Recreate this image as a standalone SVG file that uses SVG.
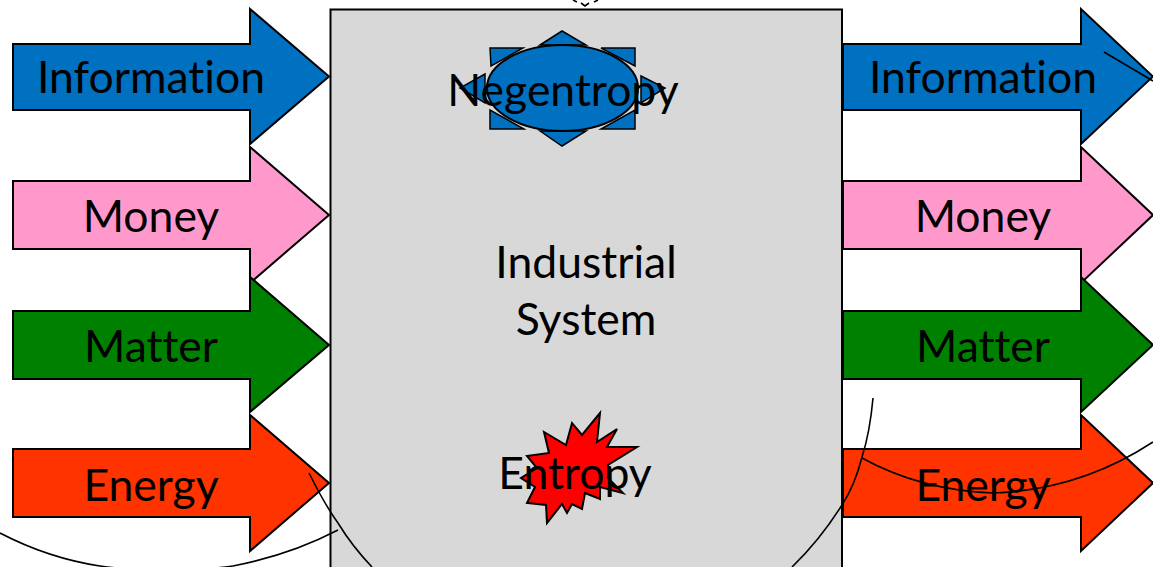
<svg xmlns="http://www.w3.org/2000/svg" width="1153" height="567" viewBox="0 0 1153 567">
<style>
text{font-family:"Lato","Liberation Sans",sans-serif;font-size:44.500px;fill:#000;text-anchor:middle;font-variant-ligatures:none}
.s{stroke:#000;stroke-width:2;stroke-linejoin:miter}
.thin{stroke:#000;stroke-width:1.5}
.info{fill:#0070C0}.money{fill:#FF99CC}.matter{fill:#008000}.energy{fill:#FF3300}
.arc{fill:none;stroke:#000;stroke-width:1.6}
</style>
<rect width="1153" height="567" fill="#fff"/>
<g id="system">
<rect x="330.500" y="9.500" width="511.500" height="570" fill="#D8D8D8" stroke="#000" stroke-width="2"/>
<text x="586" y="278">Industrial</text>
<text x="586" y="335">System</text>
</g>
<g id="in-information"><path class="s info" d="M13 44H250V9L329 76.500 250 144V110H13Z"/><text x="151" y="93">Information</text></g>
<g id="in-money"><path class="s money" d="M13 181H250V147L329 215 250 283V249H13Z"/><text x="151" y="232">Money</text></g>
<g id="in-matter"><path class="s matter" d="M13 311H250V277L329 345 250 412V379H13Z"/><text x="151" y="362">Matter</text></g>
<g id="in-energy"><path class="s energy" d="M13 449H250V415L329 483 250 551V517H13Z"/><text x="151" y="501">Energy</text></g>
<g id="out-information"><path class="s info" d="M843 44H1081V9L1153 76.500 1081 144V110H843Z"/><text x="983" y="93">Information</text></g>
<g id="out-money"><path class="s money" d="M843 181H1081V147L1153 215 1081 283V249H843Z"/><text x="983" y="232">Money</text></g>
<g id="out-matter"><path class="s matter" d="M843 311H1081V277L1153 345 1081 412V379H843Z"/><text x="983" y="362">Matter</text></g>
<g id="out-energy"><path class="s energy" d="M843 449H1081V415L1153 483 1081 551V517H843Z"/><text x="983" y="501">Energy</text></g>
<g id="negentropy">
<path class="thin info" d="M540 45L562 31 586 45ZM540 131L562 146 586 131ZM490 48H523L491 66ZM635 48H601L635 66ZM490 129V110L524 129ZM635 129V110L601 129ZM485 74L460 88 485 103ZM641 76L665 88 641 103Z"/>
<ellipse class="s info" cx="562.500" cy="88" rx="75.500" ry="43"/>
<text x="563" y="106">Negentropy</text>
</g>
<g id="entropy">
<path fill="#f00" stroke="#000" stroke-width="2" d="M600 413L582 435 572 423 566 445 544 432 549 453 527 456 537 468 521 478 535 487 527 503 546 505 547 523 562 504 567 513 572 504 582 509 585 493 600 499 600 487 623 493 608 478 608 465 637 447 607 447 617 429 597 442Z"/>
<text x="575" y="489">Entropy</text>
</g>
<g id="connectors">
<path class="arc" d="M0 533Q48 558 100 566Q165 575 233 566Q290 555 338 530"/>
<path class="arc" d="M309 473Q325 505 338 523Q352 546 372 567"/>
<path class="arc" d="M873 398Q870 432 862 457Q855 485 842 505Q820 540 792 567"/>
<path class="arc" d="M862 458Q920 490 993 493Q1080 490 1153 442"/>
<path class="arc" d="M1104 52L1153 81"/>
<path class="arc" d="M573 0L577 2M581 3L585 6 589 3M594 2L598 0"/>
</g>
</svg>
